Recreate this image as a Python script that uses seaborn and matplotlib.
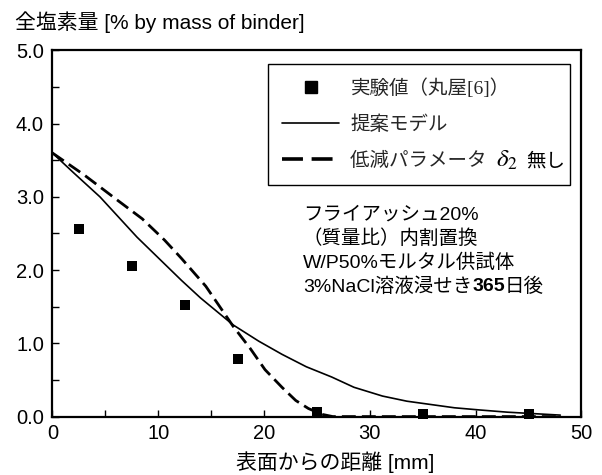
import matplotlib
matplotlib.use("Agg")
import matplotlib.pyplot as plt
import seaborn as sns
from matplotlib.lines import Line2D
from matplotlib.ticker import MultipleLocator

sns.set_theme(style="ticks")
plt.rcParams['font.family'] = ['Liberation Sans', 'Noto Sans CJK JP', 'DejaVu Sans']
plt.rcParams['mathtext.fontset'] = 'stix'

# experimental values
exp_x = [2.5, 7.5, 12.5, 17.5, 25, 35, 45]
exp_y = [2.56, 2.06, 1.53, 0.79, 0.06, 0.04, 0.03]

# proposed model (solid)
model_x = [0, 2, 4.5, 8, 12.2, 14, 17.1, 19.5, 21.7, 24, 26.4, 28.5, 31.2, 33.5, 36, 38, 40.4, 43, 45.5, 48]
model_y = [3.60, 3.33, 3.00, 2.45, 1.86, 1.62, 1.25, 1.03, 0.85, 0.68, 0.54, 0.40, 0.28, 0.21, 0.16, 0.12, 0.09, 0.06, 0.04, 0.02]

# without reduction parameter delta2 (dashed)
nod_x = [0, 3, 6.1, 8.5, 10.6, 12.2, 14.5, 17.1, 18.7, 20.1, 21.7, 23, 24.2, 25.5, 26.5, 30, 40, 48]
nod_y = [3.60, 3.30, 2.96, 2.70, 2.41, 2.16, 1.78, 1.23, 0.93, 0.64, 0.40, 0.22, 0.11, 0.03, 0.0, 0.0, 0.0, 0.0]

xticks = [0, 10, 20, 30, 40, 50]
yticks = [0.0, 1.0, 2.0, 3.0, 4.0, 5.0]

legend_head = "低減パラメータ"
legend_labels = ["実験値（丸屋[6]）", "提案モデル", legend_head + "\u3000" * 3 + "  "]
legend_tail = ["$\\delta_2$", "無し"]
note_lines = ["フライアッシュ20%", "（質量比）内割置換", "W/P50%モルタル供試体"]
note_last = ["3%NaCl溶液浸せき", "365", "日後"]

fig = plt.figure(figsize=(6.02, 4.75), dpi=100)
ax = fig.add_axes([0.0869, 0.123, 0.879, 0.771])

sns.lineplot(x=model_x, y=model_y, sort=False, estimator=None, color='black', lw=1.2, ax=ax)
sns.lineplot(x=nod_x, y=nod_y, sort=False, estimator=None, color='black', lw=2.0, ax=ax)
ax.lines[-1].set_dashes((5, 2.2))
sns.scatterplot(x=exp_x, y=exp_y, marker='s', s=45, color='black', edgecolor='black',
                linewidth=0, ax=ax, zorder=5, clip_on=False)

ax.set_xlim(0, 50)
ax.set_ylim(0, 5)
ax.set_xticks(xticks)
ax.set_xticklabels([str(t) for t in xticks])
ax.set_yticks(yticks)
ax.set_yticklabels([f"{t:.1f}" for t in yticks])
ax.xaxis.set_minor_locator(MultipleLocator(5))
ax.yaxis.set_minor_locator(MultipleLocator(0.5))
ax.tick_params(which='both', direction='in', length=5, width=1.0, color='black', top=False, right=False)
ax.tick_params(which='major', labelsize=14.5, labelcolor='black')
ax.tick_params(axis='y', which='major', pad=6)
ax.tick_params(axis='x', which='major', pad=5)
for s in ax.spines.values():
    s.set_linewidth(1.6)
    s.set_color('black')

ax.set_xlabel("")
ax.set_ylabel("")
fig.text(335 / 602, 1 - 462 / 475, "表面からの距離 [mm]", fontsize=15, ha='center', va='center', color='black')
fig.text(15 / 602, 1 - 22 / 475, "全塩素量 [% by mass of binder]", fontsize=15, ha='left', va='center', color='black')

leg_family = ['Liberation Serif', 'Noto Sans CJK JP', 'DejaVu Serif']
handles = [
    Line2D([], [], marker='s', color='black', linestyle='none', markersize=9),
    Line2D([], [], color='black', lw=1.2),
    Line2D([], [], color='black', lw=2.6, dashes=(5.8, 2.4)),
]
leg = ax.legend(handles, legend_labels, loc='upper right', bbox_to_anchor=(0.978, 0.963),
                prop={'family': leg_family, 'size': 14},
                frameon=True, fancybox=False, edgecolor='black',
                framealpha=1, handlelength=2.9, handletextpad=0.6,
                labelspacing=0.9, borderpad=0.75, borderaxespad=0)
leg.get_frame().set_linewidth(1.0)

fig.canvas.draw()
renderer = fig.canvas.get_renderer()
inv = fig.transFigure.inverted()

# measure the visible head of the third legend label
tmp = fig.text(0, 0, legend_head, fontsize=14, family=leg_family)
w_head = tmp.get_window_extent(renderer=renderer).width
tmp.remove()

lt = leg.get_texts()[2]
bbl = lt.get_window_extent(renderer=renderer)
ycen = (bbl.y0 + bbl.y1) / 2
px = bbl.x0 + w_head + 9
t_d = fig.text(*inv.transform((px, ycen + 1)), legend_tail[0], fontsize=18, ha='left', va='center', color='black')
bbd = t_d.get_window_extent(renderer=renderer)
fig.text(*inv.transform((bbd.x1 + 8, ycen)), legend_tail[1], fontsize=14, ha='left', va='center',
         color='black', family=['Noto Sans CJK JP'])

fs_note = 14
x0 = (303 - 52.3) / 529.4
ys = [(416.5 - y) / 366 for y in (215, 239, 263, 287)]
for line, yy in zip(note_lines, ys[:3]):
    ax.text(x0, yy, line, transform=ax.transAxes, fontsize=fs_note, ha='left', va='center', color='black')

xcur = x0
for i, part in enumerate(note_last):
    t = ax.text(xcur, ys[3], part, transform=ax.transAxes, fontsize=fs_note,
                fontweight='bold' if i == 1 else 'normal', ha='left', va='center', color='black')
    bb = t.get_window_extent(renderer=renderer).transformed(ax.transAxes.inverted())
    xcur = bb.x1

fig.savefig("out.png", dpi=100)
